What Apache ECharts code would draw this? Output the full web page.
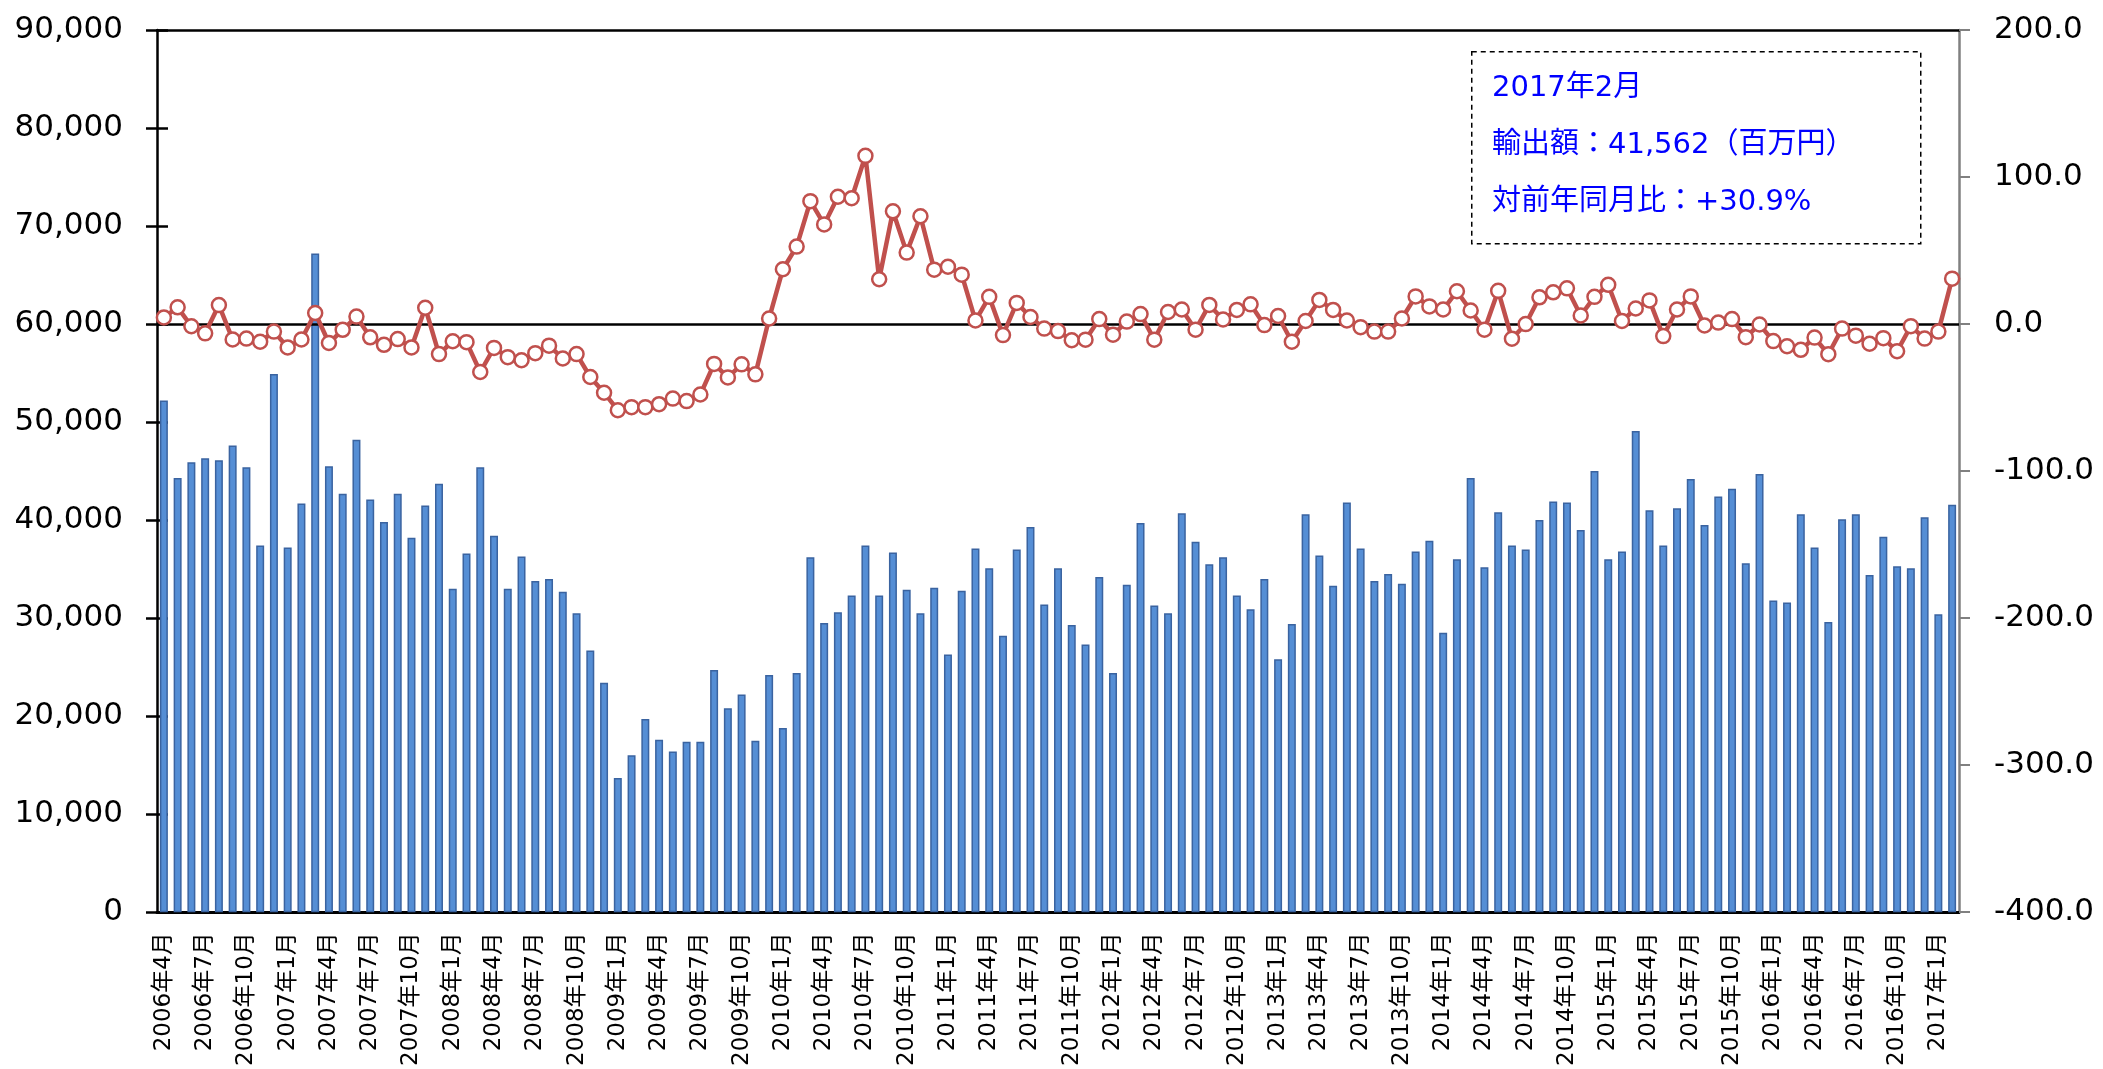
<!DOCTYPE html>
<html>
<head>
<meta charset="utf-8">
<script src="https://cdn.jsdelivr.net/npm/echarts@6/dist/echarts.min.js"></script>
<style>
html,body{margin:0;padding:0;background:#fff;}
#chart{width:2103px;height:1069px;}
</style>
</head>
<body>
<div id="chart"></div>
<script>
// Month categories: 2006年4月 .. 2017年2月
const startYear = 2006, startMonth = 4, monthCount = 131;
const categories = [];
for (let i = 0; i < monthCount; i++) {
  const m = startMonth - 1 + i;
  categories.push((startYear + Math.floor(m / 12)) + '年' + (m % 12 + 1) + '月');
}

// 輸出額 (百万円)
const exportValues = [
  52200,44300,45900,46300,46100,47600,45400,37400,54900,
  37200,41700,67200,45500,42700,48200,42100,39800,42700,38200,41500,43700,
  33000,36600,45400,38400,33000,36300,33800,34000,32700,30500,26700,23400,
  13700,16000,19700,17600,16400,17400,17400,24700,20800,22200,17500,24200,
  18800,24400,36200,29500,30600,32300,37400,32300,36700,32900,30500,33100,
  26300,32800,37100,35100,28200,37000,39300,31400,35100,29300,27300,34200,
  24400,33400,39700,31300,30500,40700,37800,35500,36200,32300,30900,34000,
  25800,29400,40600,36400,33300,41800,37100,33800,34500,33500,36800,37900,
  28500,36000,44300,35200,40800,37400,37000,40000,41900,41800,39000,45000,
  36000,36800,49100,41000,37400,41200,44200,39500,42400,43200,35600,44700,
  31800,31600,40600,37200,29600,40100,40600,34400,38300,35300,35100,40300,
  30400,41562
];

// 対前年同月比 (%)
const yoyValues = [
  4.5,11.4,-1.5,-6.3,12.9,-10.5,-9.9,-12.0,-5.1,
  -15.9,-10.5,7.5,-12.9,-3.9,5.1,-9.0,-14.1,-10.2,-15.9,11.1,-20.4,
  -11.7,-12.3,-32.6,-16.2,-22.5,-24.6,-19.8,-14.7,-23.4,-20.4,-36.0,-46.7,
  -58.6,-56.5,-56.5,-54.5,-50.7,-52.4,-47.9,-27.1,-36.3,-27.4,-34.2,3.8,
  37.3,52.7,83.6,67.8,86.6,85.6,114.4,30.5,76.7,48.6,73.3,37.0,
  39.0,33.6,2.4,18.5,-7.5,14.4,4.8,-3.1,-4.8,-11.0,-10.6,3.4,
  -7.2,1.7,6.8,-10.6,8.2,9.9,-3.8,13.0,3.1,9.6,13.4,-0.7,
  5.5,-12.0,2.1,16.4,9.6,2.4,-2.1,-5.1,-5.1,3.8,18.8,12.0,
  9.9,22.3,9.2,-3.8,22.6,-10.0,0.0,18.2,21.6,24.3,5.8,18.5,
  26.7,2.1,10.6,16.1,-8.2,9.9,18.8,-1.0,1.0,3.4,-8.9,-0.3,
  -11.6,-15.1,-17.5,-9.2,-20.5,-3.1,-7.9,-13.4,-9.6,-18.5,-1.4,-9.9,
  -5.1,30.9
];

const annotationLines = ['2017年2月', '輸出額：41,562（百万円）', '対前年同月比：+30.9%'];

const baseFont = 'DejaVu Sans, "Noto Sans CJK JP", sans-serif';
const chart = echarts.init(document.getElementById('chart'), null, {renderer: 'canvas'});
chart.setOption({
  animation: false,
  backgroundColor: '#fff',
  grid: {left: 157, right: 144, top: 30, bottom: 156, containLabel: false},
  xAxis: [
    {
      type: 'category', data: categories, position: 'bottom',
      axisLine: {show: true, onZero: false, lineStyle: {color: '#000', width: 3}},
      axisTick: {show: false},
      axisLabel: {interval: 2, rotate: 90, fontSize: 23, color: '#000', margin: 20, fontFamily: baseFont},
      splitLine: {show: false}
    },
    {
      type: 'category', data: categories, position: 'top',
      axisLine: {show: true, onZero: false, lineStyle: {color: '#000', width: 2.5}},
      axisTick: {show: false}, axisLabel: {show: false}, splitLine: {show: false}
    }
  ],
  yAxis: [
    {
      type: 'value', min: 0, max: 90000, interval: 10000, position: 'left',
      axisLine: {show: true, lineStyle: {color: '#000', width: 2.5}},
      axisTick: {show: true, inside: false, length: 11, lineStyle: {color: '#000', width: 2.5}},
      axisLabel: {fontSize: 31, color: '#000', margin: 34, fontFamily: baseFont,
        formatter: v => v.toLocaleString('en-US')},
      splitLine: {show: false}
    },
    {
      type: 'value', min: -400, max: 200, interval: 100, position: 'right',
      axisLine: {show: true, lineStyle: {color: '#808080', width: 2.5}},
      axisTick: {show: true, inside: false, length: 11, lineStyle: {color: '#808080', width: 2}},
      axisLabel: {fontSize: 31, color: '#000', margin: 35, fontFamily: baseFont,
        formatter: v => v.toFixed(1)},
      splitLine: {show: false}
    },
    {
      type: 'value', min: 0, max: 90000, interval: 10000, position: 'left',
      axisLine: {show: false},
      axisTick: {show: true, inside: true, length: 11, lineStyle: {color: '#000', width: 2.5}},
      axisLabel: {show: false}, splitLine: {show: false}
    }
  ],
  series: [
    {
      name: '輸出額', type: 'bar', data: exportValues, yAxisIndex: 0,
      barCategoryGap: '42%',
      itemStyle: {color: '#558ED5', borderColor: '#3A63A0', borderWidth: 1.5},
      z: 2
    },
    {
      name: '対前年同月比', type: 'line', data: yoyValues, yAxisIndex: 1,
      symbol: 'circle', symbolSize: 14, showAllSymbol: true,
      lineStyle: {color: '#C0504D', width: 4.5},
      itemStyle: {color: '#ffffff', borderColor: '#C0504D', borderWidth: 2.5},
      z: 4,
      markLine: {
        silent: true, symbol: ['none', 'none'], label: {show: false},
        lineStyle: {color: '#000', type: 'solid', width: 2.5},
        data: [{yAxis: 0}],
        z: 3
      }
    }
  ],
  graphic: [
    {
      type: 'rect', left: 1471, top: 51, z: 10,
      shape: {width: 449, height: 192},
      style: {fill: 'rgba(255,255,255,0)', stroke: '#000', lineWidth: 1.5, lineDash: [5, 4]}
    },
    ...annotationLines.map((t, i) => ({
      type: 'text', x: 1492, y: [88, 145, 202][i], z: 11,
      style: {text: t, fill: '#0000FF', verticalAlign: 'middle', align: 'left',
        font: '29px DejaVu Sans, "Noto Sans CJK JP", sans-serif'}
    }))
  ]
});
</script>
</body>
</html>
